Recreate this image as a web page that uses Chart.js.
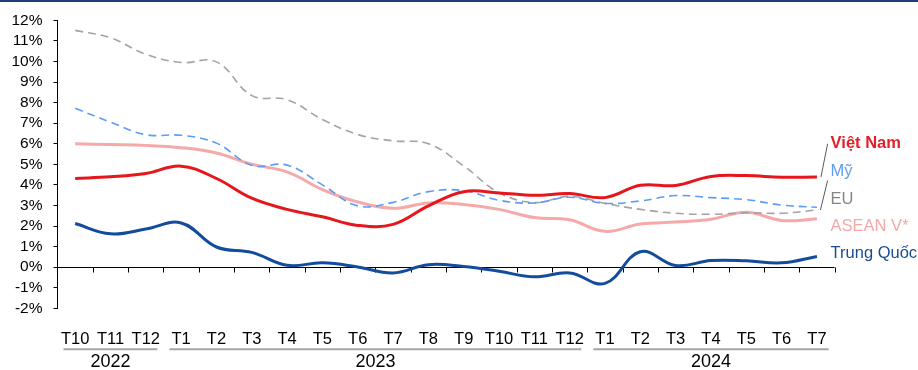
<!DOCTYPE html>
<html>
<head>
<meta charset="utf-8">
<script src="https://cdn.jsdelivr.net/npm/chart.js@4.4.1/dist/chart.umd.min.js"></script>
<style>
  body { margin: 0; background: #fff; }
  .wrap { position: relative; width: 918px; height: 370px; }
  .topline { position: absolute; left: 0; top: 0; width: 918px; height: 2px; background: #1f3d78; }
  canvas { position: absolute; left: 0; top: 0; }
</style>
</head>
<body>
<div class="wrap">
  <canvas id="inflationChart" width="918" height="370"></canvas>
  <div class="topline"></div>
</div>
<script>
// Months, grouped by year underneath the axis
const months = ["T10", "T11", "T12",
  "T1", "T2", "T3", "T4", "T5", "T6", "T7", "T8", "T9", "T10", "T11", "T12",
  "T1", "T2", "T3", "T4", "T5", "T6", "T7"];
const years = ["2022", "2023", "2024"];
const yearSpans = [3, 12, 7];

const yTicksMin = -2;
const yTicksMax = 12;

// CPI yoy, %
const vietNam = [4.31, 4.39, 4.55, 4.91, 4.31, 3.35, 2.81, 2.45, 2.03, 2.08, 2.98, 3.67, 3.61, 3.49, 3.58, 3.38, 3.98, 3.97, 4.41, 4.45, 4.37, 4.38];
const usa = [7.72, 7.05, 6.44, 6.41, 6.03, 4.95, 4.96, 4.0, 2.98, 3.15, 3.67, 3.72, 3.25, 3.12, 3.40, 3.10, 3.22, 3.48, 3.38, 3.28, 3.02, 2.91];
const eu = [11.51, 11.15, 10.35, 9.95, 9.98, 8.34, 8.14, 7.18, 6.45, 6.14, 6.0, 4.92, 3.62, 3.14, 3.44, 3.10, 2.81, 2.62, 2.57, 2.64, 2.62, 2.78];
const asean = [6.0, 5.96, 5.92, 5.81, 5.55, 5.0, 4.63, 3.77, 3.17, 2.86, 3.12, 3.05, 2.81, 2.41, 2.3, 1.74, 2.1, 2.19, 2.33, 2.67, 2.27, 2.35];
const china = [2.12, 1.62, 1.85, 2.15, 0.98, 0.72, 0.09, 0.21, 0.01, -0.28, 0.12, 0.03, -0.2, -0.47, -0.28, -0.79, 0.75, 0.08, 0.32, 0.31, 0.21, 0.52];

const seriesNames = ["Việt Nam", "Mỹ", "EU", "ASEAN V*", "Trung Quốc"];
const seriesColors = ["#e5171d", "#5c9cf6", "#a3a3a3", "#f5a9a9", "#134c9c"];
const labelColors = ["#e3202a", "#5f9cf3", "#858585", "#f4a8a8", "#1b4c92"];
// where the series names sit on the right, in axis units
const labelSlots = [6.0, 4.65, 3.3, 1.98, 0.67];

Chart.defaults.font.family = "'Liberation Sans', Arial, sans-serif";
Chart.defaults.color = "#000";

const frame = {
  id: "frame",
  beforeDatasetsDraw(chart) {
    const { ctx, chartArea, scales: { x, y } } = chart;
    const zero = Math.round(y.getPixelForValue(0)) + 0.5;
    const half = (x.getPixelForValue(1) - x.getPixelForValue(0)) / 2;
    ctx.save();
    ctx.strokeStyle = "#000";
    ctx.lineWidth = 1;
    ctx.beginPath();
    ctx.moveTo(chartArea.left, zero);
    ctx.lineTo(chartArea.right, zero);
    // tick marks between the months
    for (let i = 0; i < months.length; i++) {
      const bx = Math.round(x.getPixelForValue(i) + half) + 0.5;
      ctx.moveTo(bx, zero);
      ctx.lineTo(bx, zero + 5);
    }
    ctx.stroke();
    ctx.restore();
  },
  afterDraw(chart) {
    const { ctx, chartArea, scales: { x, y } } = chart;
    const half = (x.getPixelForValue(1) - x.getPixelForValue(0)) / 2;
    ctx.save();

    // year groups
    let start = 0;
    years.forEach((yr, k) => {
      const left = x.getPixelForValue(start) - half;
      const right = x.getPixelForValue(start + yearSpans[k] - 1) + half;
      ctx.strokeStyle = "#a6a6a6";
      ctx.lineWidth = 2;
      ctx.beginPath();
      ctx.moveTo(left + 6, chartArea.bottom + 41);
      ctx.lineTo(right - 6, chartArea.bottom + 41);
      ctx.stroke();
      ctx.fillStyle = "#000";
      ctx.font = "18px 'Liberation Sans', Arial, sans-serif";
      ctx.textAlign = "center";
      ctx.textBaseline = "middle";
      ctx.fillText(yr, (left + right) / 2, chartArea.bottom + 54);
      start += yearSpans[k];
    });

    // series names on the right
    const last = months.length - 1;
    const endX = x.getPixelForValue(last);
    const labelX = chartArea.right - 4;
    const slotY = labelSlots.map(v => y.getPixelForValue(v));

    ctx.strokeStyle = "#595959";
    ctx.lineWidth = 1;
    ctx.beginPath();
    ctx.moveTo(endX + 4, y.getPixelForValue(vietNam[last]));
    ctx.lineTo(labelX - 3, slotY[0]);
    ctx.moveTo(endX + 3.5, y.getPixelForValue(eu[last]));
    ctx.lineTo(labelX - 3, slotY[1] + 9);
    ctx.stroke();

    ctx.textAlign = "left";
    ctx.textBaseline = "middle";
    seriesNames.forEach((name, i) => {
      ctx.font = (i === 0 ? "bold " : "") + "16.5px 'Liberation Sans', Arial, sans-serif";
      ctx.fillStyle = labelColors[i];
      ctx.fillText(name, labelX, slotY[i]);
    });
    ctx.restore();
  }
};

function line(label, data, color, dashed) {
  return {
    label,
    data,
    borderColor: color,
    backgroundColor: color,
    borderWidth: dashed ? 1.6 : 3,
    borderDash: dashed ? [8, 5] : [],
    pointRadius: 0,
    tension: 0.4,
    fill: false
  };
}

new Chart(document.getElementById("inflationChart"), {
  type: "line",
  data: {
    labels: months,
    datasets: [
      line(seriesNames[0], vietNam, seriesColors[0], false),
      line(seriesNames[4], china, seriesColors[4], false),
      line(seriesNames[1], usa, seriesColors[1], true),
      line(seriesNames[2], eu, seriesColors[2], true),
      line(seriesNames[3], asean, seriesColors[3], false)
    ]
  },
  options: {
    responsive: false,
    animation: false,
    layout: { padding: { top: 19.5, right: 83.4, left: 0, bottom: 0 } },
    plugins: {
      legend: { display: false },
      tooltip: { enabled: false }
    },
    scales: {
      x: {
        offset: true,
        grid: { display: false },
        border: { display: false },
        ticks: {
          autoSkip: false,
          maxRotation: 0,
          padding: 13,
          font: { size: 16.5 },
          color: "#000"
        },
        afterFit(scale) { scale.height = 61.7; }
      },
      y: {
        min: yTicksMin,
        max: yTicksMax,
        border: { display: true, color: "#000", width: 1 },
        grid: { drawOnChartArea: false, drawTicks: true, tickLength: 4, color: "#000" },
        ticks: {
          stepSize: 1,
          autoSkip: false,
          padding: 11,
          font: { size: 15.5 },
          color: "#000",
          callback: v => v + "%"
        },
        afterFit(scale) { scale.width = 57.5; }
      }
    }
  },
  plugins: [frame]
});
</script>
</body>
</html>
